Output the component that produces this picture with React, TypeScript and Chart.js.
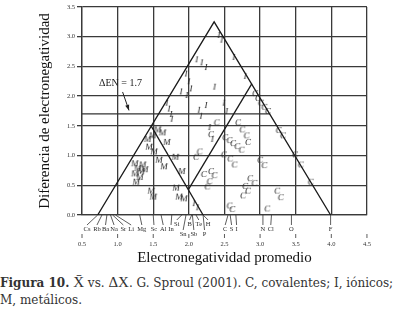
import React, { useEffect, useRef } from "react";
import { Chart, registerables } from "chart.js";
Chart.register(...registerables);

// Axis ranges
const xMin = 0.5, xMax = 4.5, yMin = 0, yMax = 3.5, step = 0.5;

// Triangle and boundary lines (x: average EN, y: EN difference)
const triangleX = [0.72, 2.355, 3.99];
const triangleY = [0, 3.25, 0];
const metalLineX = [1.47, 2.2];
const metalLineY = [1.5, 0];
const covalentLineX = [1.993, 2.885];
const covalentLineY = [0.426, 2.21];
const enLineX = [0.5, 3.14];
const enLineY = [1.7, 1.7];

// Ionic compounds (I)
const ionicX = [2.42, 2.46, 2.63, 2.79, 2.11, 2.18, 2.24, 2.36, 1.96, 2.0, 2.03, 1.97, 2.24, 2.17, 2.14, 2.49, 2.53, 1.69, 1.72, 1.75, 1.76, 2.29, 2.33, 1.89, 2.07, 2.12];
const ionicY = [3.03, 2.95, 2.66, 2.34, 2.62, 2.57, 2.49, 2.16, 2.38, 2.25, 2.13, 2.02, 1.85, 1.67, 1.77, 1.89, 1.75, 1.89, 1.79, 1.7, 1.62, 1.48, 1.28, 2.08, 0.2, 0.13];

// Covalent compounds (C)
const covalentX = [2.39, 2.31, 2.69, 2.93, 2.97, 3.01, 3.06, 3.11, 3.26, 3.32, 3.49, 3.57, 3.71, 2.51, 2.57, 2.62, 2.68, 2.74, 2.49, 2.58, 2.64, 2.1, 2.15, 2.21, 2.31, 2.36, 2.29, 2.26, 3.0, 3.06, 2.86, 2.92, 2.79, 2.83, 2.76, 3.24, 3.29, 3.1, 2.57, 2.61, 2.75, 2.81, 2.83];
const covalentY = [1.56, 1.36, 1.56, 2.05, 1.97, 1.89, 1.82, 1.75, 1.43, 1.34, 1.02, 0.85, 0.56, 1.31, 1.26, 1.21, 1.16, 1.1, 1.02, 0.95, 0.85, 0.98, 1.07, 0.69, 0.74, 0.67, 0.57, 0.48, 0.93, 0.84, 0.62, 0.54, 0.49, 0.41, 0.33, 0.41, 0.3, 0.11, 0.16, 0.1, 1.44, 1.34, 1.23];

// Metallic compounds (M)
const metallicX = [1.56, 1.42, 1.49, 1.44, 1.51, 1.58, 1.65, 1.24, 1.28, 1.33, 1.24, 1.31, 1.26, 1.35, 1.38, 1.47, 1.5, 1.82, 1.86, 1.93, 1.63, 1.69, 1.81, 1.9];
const metallicY = [1.44, 1.28, 1.34, 1.15, 1.07, 0.93, 0.82, 0.87, 0.79, 0.74, 0.7, 0.64, 0.56, 0.85, 0.77, 0.41, 0.31, 0.46, 0.31, 0.28, 1.39, 1.23, 0.98, 0.74];

// Elements under the axis
const elementNames = ["Cs", "Rb", "Ba", "Na", "Sr", "Li", "Mg", "Sc", "Al", "In", "Si", "Sn", "B", "Sb", "Te", "P", "H", "C", "S", "I", "N", "Cl", "O", "F"];
const elementEN = [0.72, 0.78, 0.85, 0.9, 0.93, 0.97, 1.31, 1.5, 1.61, 1.76, 1.9, 1.96, 2.04, 2.05, 2.1, 2.2, 2.2, 2.55, 2.58, 2.66, 3.04, 3.16, 3.44, 3.99];
const elementLabelX = [0.57, 0.71, 0.83, 0.95, 1.08, 1.19, 1.34, 1.51, 1.64, 1.75, 1.83, 1.92, 2.01, 2.07, 2.14, 2.22, 2.27, 2.51, 2.6, 2.67, 3.04, 3.15, 3.44, 3.99];
const elementRow = [1, 1, 1, 1, 1, 1, 1, 1, 1, 1, 0, 2, 0, 2, 0, 2, 0, 1, 1, 1, 1, 1, 1, 1];

// ΔEN annotation
const enNoteText = "ΔEN = 1.7";
const enNotePos = [1.04, 2.21];
const enArrowFrom = [1.07, 2.07];
const enArrowTo = [1.16, 1.76];

const xTitle = "Electronegatividad promedio";
const yTitle = "Diferencia de electronegatividad";

const pts = (xs: number[], ys: number[]) => xs.map((x, i) => ({ x, y: ys[i] }));

function letterImage(ch: string) {
  const c = document.createElement("canvas");
  c.width = 12;
  c.height = 12;
  const ctx = c.getContext("2d")!;
  ctx.fillStyle = "#262626";
  ctx.font = 'italic 9px "Liberation Serif"';
  ctx.textAlign = "center";
  ctx.textBaseline = "middle";
  ctx.fillText(ch, 6, 6.5);
  return c;
}

const annotationPlugin = {
  id: "annot",
  afterDraw(chart: any) {
    const { ctx, scales } = chart;
    const xs = scales.x, ys = scales.y;
    const base = ys.getPixelForValue(0);
    ctx.save();
    ctx.strokeStyle = "#333";
    ctx.fillStyle = "#2a2a2a";
    ctx.lineWidth = 0.8;
    ctx.font = '6.5px "Liberation Serif"';
    ctx.textAlign = "center";
    ctx.textBaseline = "middle";
    const rowY = [224, 229, 234].map((v) => base + (v - 215));
    elementNames.forEach((name, i) => {
      const x0 = xs.getPixelForValue(elementEN[i]);
      const x1 = xs.getPixelForValue(elementLabelX[i]);
      const ly = rowY[elementRow[i]];
      ctx.beginPath();
      ctx.moveTo(x0, base);
      ctx.lineTo(x1, ly - 4);
      ctx.stroke();
      ctx.fillText(name, x1, ly);
    });
    // numeric tick marks
    for (let v = xMin; v <= xMax + 1e-9; v += step) {
      const x = xs.getPixelForValue(v);
      ctx.beginPath();
      ctx.moveTo(x, base + 19);
      ctx.lineTo(x, base + 23);
      ctx.stroke();
    }
    // ΔEN note
    ctx.font = '10px "Liberation Serif"';
    ctx.fillStyle = "#222";
    ctx.fillText(enNoteText, xs.getPixelForValue(enNotePos[0]), ys.getPixelForValue(enNotePos[1]));
    const ax0 = xs.getPixelForValue(enArrowFrom[0]), ay0 = ys.getPixelForValue(enArrowFrom[1]);
    const ax1 = xs.getPixelForValue(enArrowTo[0]), ay1 = ys.getPixelForValue(enArrowTo[1]);
    ctx.strokeStyle = "#222";
    ctx.lineWidth = 1;
    ctx.beginPath();
    ctx.moveTo(ax0, ay0);
    ctx.lineTo(ax1, ay1);
    ctx.stroke();
    const ang = Math.atan2(ay1 - ay0, ax1 - ax0);
    ctx.beginPath();
    ctx.moveTo(ax1, ay1);
    ctx.lineTo(ax1 - 6 * Math.cos(ang - 0.35), ay1 - 6 * Math.sin(ang - 0.35));
    ctx.lineTo(ax1 - 6 * Math.cos(ang + 0.35), ay1 - 6 * Math.sin(ang + 0.35));
    ctx.closePath();
    ctx.fill();
    ctx.restore();
  },
};

export default function App() {
  const ref = useRef<HTMLCanvasElement>(null);
  useEffect(() => {
    document.body.style.margin = "0";
    const lineDs = (xs: number[], ys: number[]) => ({
      data: pts(xs, ys),
      showLine: true,
      borderColor: "#1a1a1a",
      borderWidth: 1.3,
      pointRadius: 0,
      fill: false,
    });
    const letterDs = (xs: number[], ys: number[], ch: string) => ({
      data: pts(xs, ys),
      pointStyle: letterImage(ch),
      pointRadius: 6,
    });
    const chart = new Chart(ref.current!, {
      type: "scatter",
      data: {
        datasets: [
          lineDs(triangleX, triangleY),
          lineDs(metalLineX, metalLineY),
          lineDs(covalentLineX, covalentLineY),
          { ...lineDs(enLineX, enLineY), borderColor: "#333", borderWidth: 1.2 },
          letterDs(ionicX, ionicY, "I"),
          letterDs(covalentX, covalentY, "C"),
          letterDs(metallicX, metallicY, "M"),
        ] as any,
      },
      options: {
        animation: false,
        responsive: false,
        layout: { padding: { left: 0, right: 26, top: 2, bottom: 0 } },
        plugins: { legend: { display: false }, tooltip: { enabled: false } },
        scales: {
          x: {
            type: "linear",
            min: xMin,
            max: xMax,
            afterFit: (s: any) => { s.height = 53; },
            afterBuildTicks: (s: any) => {
              const t = [];
              for (let v = xMin; v <= xMax + 1e-9; v += step) t.push({ value: +v.toFixed(2) });
              s.ticks = t;
            },
            ticks: {
              padding: 25,
              color: "#333",
              font: { family: "Liberation Serif", size: 6.5 },
              callback: (v: any) => Number(v).toFixed(1),
            },
            grid: { color: "#3a3a3a", lineWidth: 1.3, drawTicks: false },
            border: { color: "#3a3a3a", width: 1.3 },
            title: {
              display: true,
              text: xTitle,
              color: "#111",
              font: { family: "Liberation Serif", size: 15 },
              padding: { top: 0, bottom: 1 },
            },
          },
          y: {
            type: "linear",
            min: yMin,
            max: yMax,
            afterFit: (s: any) => { s.width = 82; },
            afterBuildTicks: (s: any) => {
              const t = [];
              for (let v = yMin; v <= yMax + 1e-9; v += step) t.push({ value: +v.toFixed(2) });
              s.ticks = t;
            },
            ticks: {
              padding: 2,
              color: "#333",
              font: { family: "Liberation Serif", size: 6.5 },
              callback: (v: any) => Number(v).toFixed(1),
            },
            grid: { color: "#3a3a3a", lineWidth: 1.3, tickLength: 5 },
            border: { color: "#3a3a3a", width: 1.3 },
            title: {
              display: true,
              text: yTitle,
              color: "#111",
              font: { family: "Liberation Serif", size: 15 },
              padding: { top: 36, bottom: 0 },
            },
          },
        },
      },
      plugins: [annotationPlugin],
    });
    return () => chart.destroy();
  }, []);

  return (
    <div style={{ position: "absolute", left: 0, top: 0, width: 396, height: 321, background: "#fff", overflow: "hidden" }}>
      <canvas ref={ref} width={396} height={268} style={{ display: "block" }} />
      <div
        style={{
          position: "absolute",
          left: 0,
          top: 274,
          fontFamily: '"DejaVu Serif", serif',
          fontSize: 12,
          lineHeight: "17px",
          color: "#333",
          whiteSpace: "nowrap",
        }}
      >
        <b>Figura 10.</b>{" "}
        <span style={{ fontFamily: '"Liberation Serif", serif', fontSize: 15 }}>X̄</span> vs.{" "}
        <span style={{ fontFamily: '"Liberation Serif", serif', fontSize: 15 }}>ΔX</span>. G. Sproul (2001). C, covalentes; I, iónicos;
        <br />
        M, metálicos.
      </div>
    </div>
  );
}
